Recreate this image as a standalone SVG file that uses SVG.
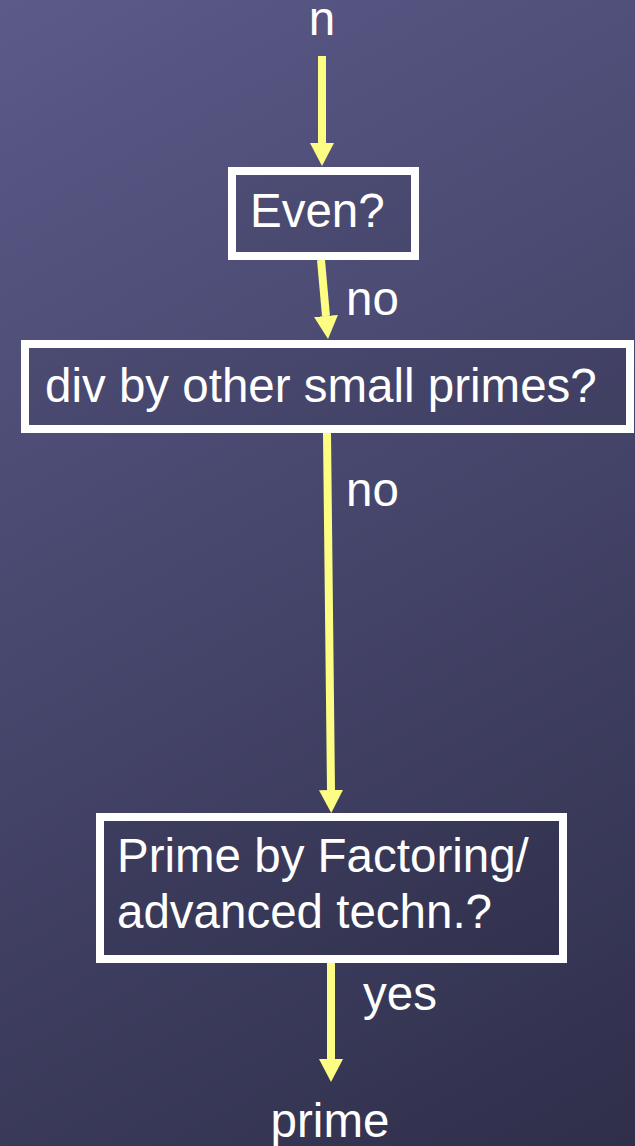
<svg xmlns="http://www.w3.org/2000/svg" width="635" height="1146" viewBox="0 0 635 1146">
  <defs>
    <linearGradient id="bg" x1="0" y1="0" x2="635" y2="1146" gradientUnits="userSpaceOnUse">
      <stop offset="0" stop-color="#5b5a89"/>
      <stop offset="1" stop-color="#2f2f4b"/>
    </linearGradient>
    <marker id="ah" viewBox="0 0 23 24" markerWidth="23" markerHeight="24" refX="0" refY="12" orient="auto" markerUnits="userSpaceOnUse">
      <path d="M0,0 L23,12 L0,24 z" fill="#fdfd84"/>
    </marker>
  </defs>
  <style>
    .box { fill: #000000; fill-opacity: 0.06; stroke: #ffffff; stroke-width: 8; }
    .t { font-family: "Liberation Sans", Arial, sans-serif; font-size: 47.5px; fill: #ffffff; }
    .c { stroke: #fdfd84; stroke-width: 8; fill: none; marker-end: url(#ah); }
  </style>
  <rect x="0" y="0" width="635" height="1146" fill="url(#bg)"/>

  <g id="connectors">
    <path class="c" d="M322,56 L322,143"/>
    <path class="c" d="M321,260 L326,316"/>
    <path class="c" d="M327,433 L331,790"/>
    <path class="c" d="M331,963 L331,1059"/>
    <text class="t" x="346" y="315">no</text>
    <text class="t" x="346" y="506">no</text>
    <text class="t" x="363" y="1010">yes</text>
  </g>

  <g id="input">
    <text class="t" x="322" y="35" text-anchor="middle">n</text>
  </g>

  <g id="even">
    <rect class="box" x="232" y="171" width="183" height="85"/>
    <text class="t" x="250" y="227">Even?</text>
  </g>

  <g id="smallprimes">
    <rect class="box" x="25" y="344" width="605" height="85"/>
    <text class="t" x="45" y="402">div by other small primes?</text>
  </g>

  <g id="factoring">
    <rect class="box" x="100" y="817" width="463" height="142"/>
    <text class="t" x="117" y="872">Prime by Factoring/</text>
    <text class="t" x="117" y="928">advanced techn.?</text>
  </g>

  <g id="output">
    <text class="t" x="330" y="1137" text-anchor="middle">prime</text>
  </g>
</svg>
